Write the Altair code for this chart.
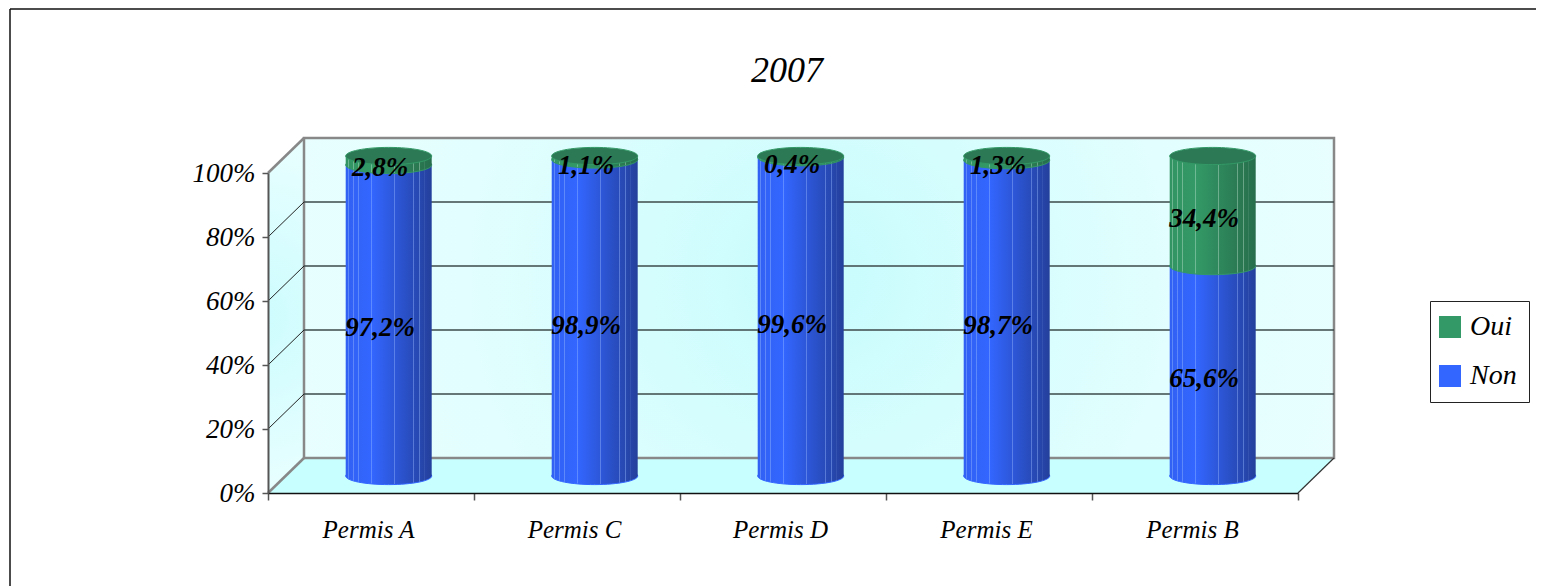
import altair as alt
import pandas as pd

categories = ["Permis A", "Permis C", "Permis D", "Permis E", "Permis B"]
non_values = [97.2, 98.9, 99.6, 98.7, 65.6]
oui_values = [2.8, 1.1, 0.4, 1.3, 34.4]
series_names = ["Oui", "Non"]
tick_values = [0, 20, 40, 60, 80, 100]
title_text = "2007"

FONT = "Liberation Serif"
W, H = 1030, 320
DX = 36 / 206          # depth of the 3D box, in category units
DY = 35 / 3.2          # depth of the 3D box, in percent units
BAR_W = 86
BX, BY = 17.7, -17     # shift of the cylinders towards the back wall


def mix(a, b, t):
    ca = [int(a[i:i + 2], 16) for i in (1, 3, 5)]
    cb = [int(b[i:i + 2], 16) for i in (1, 3, 5)]
    return "#" + "".join(f"{round(x + (y - x) * t):02x}" for x, y in zip(ca, cb))


def cylinder_gradient(light, dark, stripe):
    positions = [0.03, 0.09, 0.15, 0.30, 0.57, 0.79, 0.86, 0.92]
    def base(t):
        if t < 0.3:
            return mix(mix(light, dark, 0.12), light, t / 0.3)
        return mix(light, dark, (t - 0.3) / 0.7)
    stops = [alt.GradientStop(offset=0, color=base(0))]
    for p in positions:
        c = base(p)
        l = mix(c, stripe, 0.4)
        stops += [
            alt.GradientStop(offset=p - 0.004, color=c),
            alt.GradientStop(offset=p - 0.003, color=l),
            alt.GradientStop(offset=p + 0.003, color=l),
            alt.GradientStop(offset=p + 0.004, color=c),
        ]
    stops.append(alt.GradientStop(offset=1, color=base(1)))
    return alt.Gradient(gradient="linear", x1=0, x2=1, y1=0, y2=0, stops=stops)


blue_grad = cylinder_gradient("#3366ff", "#24409c", "#9fc0ff")
green_grad = cylinder_gradient("#339966", "#276e4c", "#c8e8d8")

# ---------- tables ----------
bars = pd.DataFrame({
    "cat": categories,
    "non": non_values,
    "oui": oui_values,
    "total": [a + b for a, b in zip(non_values, oui_values)],
    "non_mid": [a / 2 for a in non_values],
    "oui_mid": [a + b / 2 for a, b in zip(non_values, oui_values)],
    "zero": [0] * 5,
    "non_label": [f"{v:.1f}%".replace(".", ",") for v in non_values],
    "oui_label": [f"{v:.1f}%".replace(".", ",") for v in oui_values],
})
long = pd.concat([
    pd.DataFrame({"cat": categories, "serie": "Non", "lo": 0.0, "hi": non_values}),
    pd.DataFrame({"cat": categories, "serie": "Oui", "lo": non_values,
                  "hi": [a + b for a, b in zip(non_values, oui_values)]}),
])

# ---------- 3D box ----------
y_axis = alt.Axis(values=tick_values, labelExpr="datum.value + '%'", labelFont=FONT,
                  labelFontStyle="italic", labelFontSize=27, labelColor="#000000", labelPadding=7,
                  tickSize=6, tickColor="#555555", tickWidth=1.5, domainColor="#555555",
                  domainWidth=2, grid=False, zindex=1)
xq = alt.X("x:Q", axis=None, scale=alt.Scale(domain=[0, 5], nice=False, zero=False))
yscale = alt.Scale(domain=[0, 100], nice=False)
yq = alt.Y("y:Q", axis=y_axis, scale=yscale, title=None)

glow = [alt.GradientStop(offset=0, color="#c8fcfd"),
        alt.GradientStop(offset=0.55, color="#e2fefe"),
        alt.GradientStop(offset=1, color="#ecffff")]

back_wall = alt.Chart(pd.DataFrame({"x": [DX], "x2": [5 + DX], "y": [DY], "y2": [100 + DY]})).mark_rect(
    fill=alt.Gradient(gradient="radial", stops=glow, x1=0.5, y1=0.48, x2=0.5, y2=0.48, r1=0, r2=0.62),
    stroke="#888888", strokeWidth=2.5,
).encode(x=xq, x2="x2:Q", y=yq, y2="y2:Q")

left_wall = alt.Chart(pd.DataFrame({"x": [0, DX], "y": [0, DY], "y2": [100, 100 + DY]})).mark_area(
    fill=alt.Gradient(gradient="radial",
                      stops=[alt.GradientStop(offset=0, color="#ccfcfe"),
                             alt.GradientStop(offset=1, color="#eeffff")],
                      x1=0.4, y1=0.5, x2=0.4, y2=0.5, r1=0, r2=0.6),
).encode(x=xq, y=yq, y2="y2:Q")

floor = alt.Chart(pd.DataFrame({"x": [0, DX, 5, 5 + DX],
                                "y": [0, 0, 0, DY],
                                "y2": [0, DY, DY, DY]})).mark_area(color="#c8ffff").encode(
    x=xq, y=yq, y2="y2:Q")

grid_back = alt.Chart(pd.DataFrame({"y": [DY + v for v in tick_values[1:-1]],
                                    "x": [DX] * 4, "x2": [5 + DX] * 4})).mark_rule(
    color="#3c4a4a", strokeWidth=1.3).encode(x=xq, x2="x2:Q", y=yq)

grid_side = alt.Chart(pd.DataFrame({"x": [0] * 4, "x2": [DX] * 4,
                                    "y": tick_values[1:-1],
                                    "y2": [v + DY for v in tick_values[1:-1]]})).mark_rule(
    color="#222222", strokeWidth=1).encode(x=xq, x2="x2:Q", y=yq, y2="y2:Q")

edges = alt.Chart(pd.DataFrame({"x": [0, 0], "x2": [DX, DX], "y": [0, 100], "y2": [DY, 100 + DY]})).mark_rule(
    color="#888888", strokeWidth=2.5).encode(x=xq, x2="x2:Q", y=yq, y2="y2:Q")

edge_right = alt.Chart(pd.DataFrame({"x": [5], "x2": [5 + DX], "y": [0], "y2": [DY]})).mark_rule(
    color="#333333", strokeWidth=1.2).encode(x=xq, x2="x2:Q", y=yq, y2="y2:Q")

frame = alt.layer(floor, left_wall, back_wall, grid_back, grid_side, edges, edge_right)

# ---------- cylinders ----------
xcat = alt.X("cat:N", sort=categories, title=None, scale=alt.Scale(paddingInner=0, paddingOuter=0),
             axis=alt.Axis(labelFont=FONT, labelFontStyle="italic", labelFontSize=25, labelColor="#000000",
                           labelAngle=0, labelPadding=17, labelOffset=-3, tickBand="extent", tickSize=7,
                           tickColor="#555555", tickWidth=1.5, domainColor="#111111", domainWidth=1.5,
                           grid=False, zindex=1))
ELLIPSE = "M-1,0 A1,0.2 0 1,1 1,0 A1,0.2 0 1,1 -1,0 Z"
OFF = dict(xOffset=BX, yOffset=BY)
BAR_OFF = dict(xOffset=BX, x2Offset=BX, yOffset=BY, y2Offset=BY)
ell_size = BAR_W ** 2

legend_bar = alt.Chart(long).mark_bar(size=BAR_W - 4, **BAR_OFF).encode(
    x=xcat,
    y=alt.Y("lo:Q", scale=yscale, title=None),
    y2="hi:Q",
    color=alt.Color("serie:N", title=None,
                    scale=alt.Scale(domain=series_names, range=["#339966", "#3366ff"]),
                    legend=alt.Legend(orient="none", legendX=1162, legendY=128, padding=12,
                                      strokeColor="#222222", fillColor="#ffffff", symbolType="square",
                                      symbolSize=484, symbolStrokeWidth=0, symbolOffset=-6, labelFont=FONT,
                                      labelFontStyle="italic", labelFontSize=28, labelColor="#000000",
                                      labelOffset=6, rowPadding=21, symbolOpacity=1, labelLimit=200,
                                      labelExpr="datum.label + '\u00a0'")),
)


def ell(field, fill, rim):
    return alt.Chart(bars).mark_point(shape=ELLIPSE, size=ell_size, filled=True, fill=fill, opacity=1,
                                      stroke=rim, strokeWidth=1, **OFF).encode(
        x=xcat, y=alt.Y(f"{field}:Q", scale=yscale, title=None))


def bar(lo, hi, fill):
    return alt.Chart(bars).mark_bar(size=BAR_W, fill=fill, **BAR_OFF).encode(
        x=xcat, y=alt.Y(f"{lo}:Q", scale=yscale, title=None), y2=f"{hi}:Q")


def label(field, text):
    return alt.Chart(bars).mark_text(font=FONT, fontStyle="italic", fontWeight="bold", fontSize=27,
                                     color="#000000", dx=9, dy=-9, baseline="middle").encode(
        x=xcat, y=alt.Y(f"{field}:Q", scale=yscale, title=None), text=f"{text}:N")


cylinders = alt.layer(
    legend_bar,
    ell("zero", blue_grad, "#3366ff"),
    bar("zero", "non", blue_grad),
    ell("non", green_grad, "#339966"),
    bar("non", "total", green_grad),
    ell("total", "#2b7a55", "#339966"),
    label("non_mid", "non_label"),
    label("oui_mid", "oui_label"),
)

# ---------- outer frame ----------
frame_top = alt.Chart(pd.DataFrame({"a": [0]})).mark_rule(color="#111111", strokeWidth=1.5).encode(
    x=alt.value(-258), x2=alt.value(1276), y=alt.value(-164))
frame_left = alt.Chart(pd.DataFrame({"a": [0]})).mark_rule(color="#111111", strokeWidth=1.5).encode(
    x=alt.value(-258), y=alt.value(-164), y2=alt.value(413))

chart = (
    alt.layer(frame, cylinders, frame_top, frame_left)
    .resolve_scale(x="independent")
    .properties(
        width=W, height=H,
        autosize=alt.AutoSizeParams(type="none"),
        padding={"left": 260, "top": 165, "right": 238, "bottom": 93},
        background="#ffffff",
        title=alt.TitleParams(text=title_text, font=FONT, fontStyle="italic", fontWeight="normal",
                              fontSize=36, color="#000000", anchor="middle", offset=-82, dx=4),
    )
    .configure_view(stroke=None)
)

chart.save("out.html", embed_options={"renderer": "svg", "actions": False})
